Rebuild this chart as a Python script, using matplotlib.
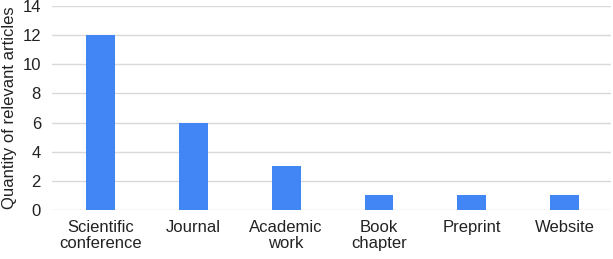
import matplotlib.pyplot as plt

categories = ["Scientific\nconference", "Journal", "Academic\nwork", "Book\nchapter", "Preprint", "Website"]
counts = [12, 6, 3, 1, 1, 1]

plt.rcParams['font.family'] = ['Liberation Sans', 'DejaVu Sans']

fig = plt.figure(figsize=(6.13, 2.59), dpi=100)
ax = fig.add_axes([0.085, 0.189, 0.912, 0.788])

ax.bar(range(len(categories)), counts, width=0.31, color="#4285f4", zorder=3)

ax.set_xlim(-0.52, 5.5)
ax.set_ylim(0, 14)
ax.set_yticks(range(0, 15, 2))
ax.set_xticks(range(len(categories)))
ax.set_xticklabels(categories, fontsize=12, color="#222222", linespacing=1.1)
ax.tick_params(axis="y", labelsize=12, labelcolor="#222222", length=0, pad=8)
ax.tick_params(axis="x", length=0, pad=7)
ax.grid(axis="y", color="#d9d9d9", linewidth=1, zorder=0)
for s in ax.spines.values():
    s.set_visible(False)
ax.set_ylabel("Quantity of relevant articles", fontsize=12, color="#222222", labelpad=4)

fig.savefig("out.png", dpi=100)
